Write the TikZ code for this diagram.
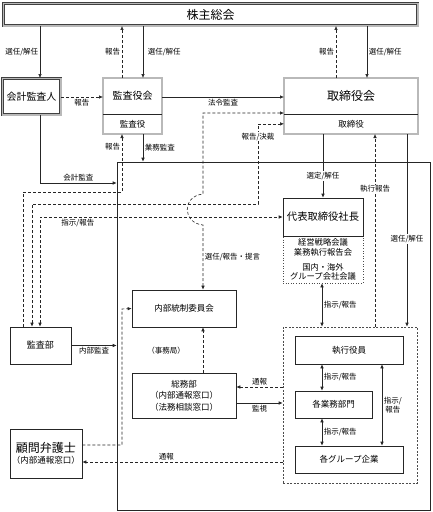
\documentclass[tikz,border=0pt]{standalone}
\usepackage{fontspec}
\setmainfont{Noto Sans CJK JP}
\usetikzlibrary{arrows.meta}

\begin{document}
\begin{tikzpicture}[x=1pt, y=-1pt, line width=0.6pt,
   lbl/.style={font=\fontsize{7.5}{9}\selectfont, inner sep=1.5pt},
   wl/.style={lbl, fill=white, inner sep=1pt},
   arr/.style={draw=black!85, -{Latex[length=4pt,width=3.5pt]}},
   dblarr/.style={draw=black!85, {Latex[length=4pt,width=3.5pt]}-{Latex[length=4pt,width=3.5pt]}},
   dsh/.style={dash pattern=on 3pt off 2pt},
   bx/.style={draw=black!85, inner sep=0pt, align=center, font=\fontsize{8.5}{11.5}\selectfont},
   dbl/.style={draw=black!75, double=gray!55, double distance=1.6pt, line width=0.5pt},
   nb/.style={inner sep=0pt, align=center}]
\useasboundingbox (0,0) rectangle (432,512);

\node[nb, dbl, minimum width=414.4pt, minimum height=22.4pt, font=\fontsize{12}{14}\selectfont] (kabu) at (210.5,14.5) {株主総会};
\node[nb, dbl, minimum width=58.4pt, minimum height=36.4pt, font=\fontsize{10}{12}\selectfont] (kaikei) at (31.5,96.5) {会計監査人};

\node[nb, minimum width=58.4pt, minimum height=35.7pt, font=\fontsize{10}{12}\selectfont] (kansa) at (132.5,96.15) {監査役会};
\node[nb, minimum width=58.4pt, minimum height=19.7pt, font=\fontsize{8.5}{10}\selectfont] (kansayaku) at (132.5,123.85) {監査役};
\draw[dbl] (kansa.north west) rectangle (kansayaku.south east);
\draw[black!85] (kansa.south west) -- (kansa.south east);

\node[nb, minimum width=133.4pt, minimum height=35.7pt, font=\fontsize{12}{14}\selectfont] (tori) at (351,96.15) {取締役会};
\node[nb, minimum width=133.4pt, minimum height=19.7pt, font=\fontsize{8.5}{10}\selectfont] (toriyaku) at (351,123.85) {取締役};
\draw[dbl] (tori.north west) rectangle (toriyaku.south east);
\draw[black!85] (tori.south west) -- (tori.south east);

\node[draw=black!85, inner sep=0pt, minimum width=313.5pt, minimum height=348.5pt] (frame) at (273.75,336.25) {};

\node[bx, draw=black!70, dotted, minimum width=80pt, minimum height=47pt, font=\fontsize{8.3}{9.5}\selectfont] (kaigi) at (323,259.5) {経営戦略会議\\業務執行報告会\\[5.5pt]国内・海外\\グループ会社会議};
\node[bx, fill=white, minimum width=80pt, minimum height=38pt, font=\fontsize{10.3}{12}\selectfont] (daihyo) at (323,217) {代表取締役社長};

\node[bx, minimum width=104pt, minimum height=37pt] (naibu) at (184,308.5) {内部統制委員会};
\node[lbl] (jimu) at (166,351) {（事務局）};
\node[bx, minimum width=104pt, minimum height=45pt] (somu) at (184,395.5) {総務部\\（内部通報窓口）\\（法務相談窓口）};
\node[bx, minimum width=61pt, minimum height=37pt, font=\fontsize{9}{11}\selectfont] (kansabu) at (40.5,345.5) {監査部};
\node[bx, minimum width=72pt, minimum height=49pt] (komon) at (46,453.5) {{\fontsize{12}{14}\selectfont 顧問弁護士}\\（内部通報窓口）};

\node[draw=black!70, dash pattern=on 2pt off 1.5pt, inner sep=0pt, minimum width=134pt, minimum height=156pt] (grp) at (350,405) {};
\node[bx, minimum width=108pt, minimum height=28pt] (shikko) at (349,350) {執行役員};
\node[bx, minimum width=77pt, minimum height=27pt] (gyomu) at (333.5,404.5) {各業務部門};
\node[bx, minimum width=108pt, minimum height=27pt] (kgroup) at (349,459.5) {各グループ企業};

\draw[arr] (kabu.south -| 40,0) -- (kaikei.north -| 40,0) node[lbl,midway,left] {選任/解任};
\draw[arr,dsh] (kansa.north -| 122,0) -- (kabu.south -| 122,0) node[lbl,midway,left] {報告};
\draw[arr] (kabu.south -| 143,0) -- (kansa.north -| 143,0) node[lbl,midway,right,xshift=3pt] {選任/解任};
\draw[arr,dsh] (tori.north -| 336,0) -- (kabu.south -| 336,0) node[lbl,midway,left] {報告};
\draw[arr] (kabu.south -| 367,0) -- (tori.north -| 367,0) node[lbl,midway,right] {選任/解任};

\draw[arr,dsh] (kaikei.east |- 0,97) -- (kansa.west |- 0,97) node[lbl,midway,below] {報告};
\draw[arr] (kansa.east |- 0,97) -- (tori.west |- 0,97) node[lbl,midway,below] {法令監査};

\draw[arr] (kaikei.south -| 40,0) |- (frame.west |- 0,183) node[lbl,pos=0.75,above] {会計監査};
\draw[arr] (kansayaku.south -| 143,0) -- (frame.north -| 143,0) node[lbl,midway,right] {業務監査};
\draw[arr,dsh] (kansabu.north -| 23,0) |- (122,192) -- (kansayaku.south -| 122,0) node[lbl,pos=0.78,left] {報告};
\draw[dblarr,dsh] (kansabu.north -| 32,0) |- (258,204) |- (toriyaku.west) node[wl,pos=0.42] {報告/決裁};
\draw[dblarr,dsh] (tori.west |- 0,113) -| (203,194) .. controls (182,196) and (182,223) .. (203,225) -- (naibu.north -| 203,0) node[lbl,midway,right] {選任/報告・提言};
\draw[dblarr,dsh] (kansabu.north -| 40,0) |- (daihyo.west) node[lbl,pos=0.578,below] {指示/報告};

\draw[arr] (toriyaku.south -| daihyo.north) -- (daihyo.north) node[wl,pos=0.66] {選定/解任};
\draw[arr,dsh] (grp.north -| 375,0) -- (toriyaku.south -| 375,0) node[wl,pos=0.714] {執行報告};
\draw[arr] (toriyaku.south -| 407,0) -- (grp.north -| 407,0) node[wl,pos=0.545] {選任/解任};
\draw[dblarr] (kaigi.south -| 322,0) -- (grp.north -| 322,0) node[lbl,midway,right] {指示/報告};

\draw[arr,dsh] (somu.north -| 203,0) -- (naibu.south -| 203,0);
\draw[arr,dsh] (komon.east |- 0,445) -| (122,309) -- (naibu.west);
\draw[arr,dsh] (grp.west |- 0,462) -- (komon.east |- 0,462) node[lbl,pos=0.58,above] {通報};
\draw[arr] (kansabu.east) -- (frame.west |- kansabu.east) node[lbl,midway,below] {内部監査};
\draw[arr,dsh] (grp.west |- 0,387) -- (somu.east |- 0,387) node[lbl,midway,above] {通報};
\draw[arr] (somu.east |- 0,403) -- (grp.west |- 0,403) node[lbl,midway,below] {監視};

\draw[dblarr] (shikko.south -| 322,0) -- (gyomu.north -| 322,0) node[lbl,midway,right] {指示/報告};
\draw[dblarr] (gyomu.south -| 322,0) -- (kgroup.north -| 322,0) node[lbl,midway,right] {指示/報告};
\draw[dblarr] (shikko.south -| 382,0) -- (kgroup.north -| 382,0) node[lbl,midway,right,align=center] {指示/\\報告};
\end{tikzpicture}
\end{document}
